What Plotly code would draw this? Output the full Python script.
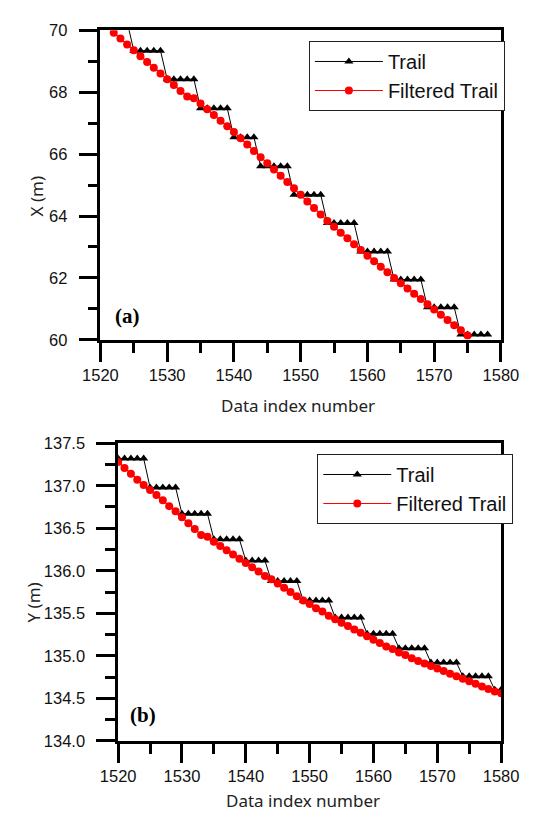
import plotly.graph_objects as go

W, H = 539, 818

# ---------------- data ----------------
idx_top_trail = list(range(1520, 1579))
x_trail = [70.28, 70.28, 70.28, 70.28, 70.28,
           69.34, 69.34, 69.34, 69.34, 69.34,
           68.42, 68.42, 68.42, 68.42, 68.42,
           67.48, 67.48, 67.48, 67.48, 67.48,
           66.54, 66.54, 66.54, 66.54,
           65.61, 65.61, 65.61, 65.61, 65.61,
           64.69, 64.69, 64.69, 64.69, 64.69,
           63.77, 63.77, 63.77, 63.77, 63.77,
           62.85, 62.85, 62.85, 62.85, 62.85,
           61.95, 61.95, 61.95, 61.95, 61.95,
           61.05, 61.05, 61.05, 61.05, 61.05,
           60.17, 60.17, 60.17, 60.17, 60.17]

idx_top_filt = list(range(1522, 1576))
x_filtered = [69.92, 69.73, 69.54, 69.35, 69.16, 68.97, 68.79, 68.60,
              68.42, 68.23, 68.04, 67.86, 67.80, 67.63, 67.45, 67.26, 67.08, 66.90,
              66.71, 66.51, 66.31, 66.10, 65.90, 65.70, 65.50, 65.30, 65.10, 64.90,
              64.69, 64.47, 64.26, 64.05, 63.84, 63.65, 63.46, 63.28, 63.09, 62.90,
              62.72, 62.54, 62.36, 62.18, 62.00, 61.83, 61.66, 61.49, 61.32, 61.15,
              60.98, 60.81, 60.64, 60.47, 60.31, 60.14]

idx_bot = list(range(1520, 1581))
y_trail = [137.32, 137.32, 137.32, 137.32, 137.32,
           136.98, 136.98, 136.98, 136.98, 136.98,
           136.67, 136.67, 136.67, 136.67, 136.67,
           136.37, 136.37, 136.37, 136.37, 136.37,
           136.12, 136.12, 136.12, 136.12,
           135.88, 135.88, 135.88, 135.88, 135.88,
           135.65, 135.65, 135.65, 135.65, 135.65,
           135.45, 135.45, 135.45, 135.45, 135.45,
           135.26, 135.26, 135.26, 135.26, 135.26,
           135.09, 135.09, 135.09, 135.09, 135.09,
           134.92, 134.92, 134.92, 134.92, 134.92,
           134.76, 134.76, 134.76, 134.76, 134.76,
           134.60, 134.60]
y_filtered = [137.28, 137.21, 137.14, 137.07, 137.01, 136.95, 136.89, 136.83, 136.76, 136.70,
              136.63, 136.56, 136.49, 136.42, 136.40, 136.34, 136.29, 136.24, 136.19, 136.14,
              136.09, 136.04, 135.99, 135.94, 135.90, 135.85, 135.80, 135.75, 135.70, 135.65,
              135.61, 135.56, 135.52, 135.47, 135.43, 135.39, 135.35, 135.31, 135.27, 135.23,
              135.19, 135.15, 135.11, 135.08, 135.04, 135.01, 134.97, 134.94, 134.91, 134.88,
              134.85, 134.82, 134.79, 134.76, 134.73, 134.70, 134.67, 134.64, 134.61, 134.58,
              134.56]

series_names = ["Trail", "Filtered Trail"]
x_ticks = [1520, 1530, 1540, 1550, 1560, 1570, 1580]

# ---------------- styles ----------------
TICKFONT = dict(family="Liberation Sans, Arial, sans-serif", size=16.5, color="#111")
TITLEFONT = dict(family="Noto Sans, sans-serif", size=17, color="#222")
LEGFONT = dict(family="Liberation Sans, Arial, sans-serif", size=20, color="#111")
trail_style = dict(mode="lines+markers", line=dict(color="black", width=1),
                   marker=dict(symbol="triangle-up", size=8, color="black"))
filt_style = dict(mode="lines+markers", line=dict(color="red", width=1.2),
                  marker=dict(symbol="circle", size=8, color="red"))

fig = go.Figure()
fig.add_trace(go.Scatter(x=idx_top_trail, y=x_trail, name=series_names[0],
                         xaxis="x", yaxis="y", legend="legend", **trail_style))
fig.add_trace(go.Scatter(x=idx_top_filt, y=x_filtered, name=series_names[1],
                         xaxis="x", yaxis="y", legend="legend", **filt_style))
fig.add_trace(go.Scatter(x=idx_bot, y=y_trail, name=series_names[0],
                         xaxis="x2", yaxis="y2", legend="legend2", **trail_style))
fig.add_trace(go.Scatter(x=idx_bot, y=y_filtered, name=series_names[1],
                         xaxis="x2", yaxis="y2", legend="legend2", **filt_style))


def px_x(p):
    return p / W


def px_y(p):
    return 1 - p / H


axis_common = dict(showline=True, linewidth=2.5, linecolor="black", mirror=True,
                   ticks="outside", ticklen=19, tickwidth=2.5, tickcolor="black",
                   showgrid=False, zeroline=False, tickfont=TICKFONT)
minor_style = dict(ticklen=10, tickwidth=2.5, tickcolor="black", ticks="outside")

fig.update_layout(
    width=W, height=H, autosize=False,
    margin=dict(l=0, r=0, t=0, b=0),
    paper_bgcolor="white", plot_bgcolor="white",
    xaxis=dict(domain=[px_x(88.3), px_x(517.5)], range=[1520, 1580], anchor="y",
               tickvals=x_ticks, minor=dict(dtick=5, **minor_style),
               ticklabelstandoff=0, **axis_common),
    yaxis=dict(domain=[px_y(338.3), px_y(21.7)], range=[60, 70], anchor="x",
               dtick=2, tick0=60, minor=dict(dtick=1, **minor_style),
               ticklabelstandoff=8, **axis_common),
    xaxis2=dict(domain=[px_x(107.3), px_x(517.7)], range=[1520, 1580], anchor="y2",
                tickvals=x_ticks, minor=dict(dtick=5, **minor_style),
                ticklabelstandoff=0, **axis_common),
    yaxis2=dict(domain=[px_y(748.3), px_y(444)], range=[134, 137.5], anchor="x2",
                dtick=0.5, tick0=134, tickformat=".1f",
                minor=dict(dtick=0.25, **minor_style),
                ticklabelstandoff=8, **axis_common),
    legend=dict(x=px_x(311.7), y=px_y(32.7), xanchor="left", yanchor="top",
                bgcolor="white", bordercolor="#222", borderwidth=1,
                font=LEGFONT, tracegroupgap=0, itemwidth=68),
    legend2=dict(x=px_x(320.7), y=px_y(455), xanchor="left", yanchor="top",
                 bgcolor="white", bordercolor="#222", borderwidth=1,
                 font=LEGFONT, tracegroupgap=0, itemwidth=68),
    showlegend=True,
)

annotations = [
    dict(text="Data index number", x=px_x(300), y=px_y(405.5), font=TITLEFONT),
    dict(text="Data index number", x=px_x(305), y=px_y(809.5), font=TITLEFONT),
    dict(text="X (m)", x=px_x(20), y=px_y(192), textangle=-90, font=TITLEFONT),
    dict(text="Y (m)", x=px_x(17), y=px_y(607), textangle=-90, font=TITLEFONT),
    dict(text="<b>(a)</b>", x=px_x(117.5), y=px_y(314),
         font=dict(family="Liberation Serif, Times New Roman, serif", size=21, color="black")),
    dict(text="<b>(b)</b>", x=px_x(134), y=px_y(722),
         font=dict(family="Liberation Serif, Times New Roman, serif", size=21, color="black")),
]
for a in annotations:
    fig.add_annotation(xref="paper", yref="paper", showarrow=False,
                       xanchor="center", yanchor="middle", **a)

fig.write_html("out.html")
